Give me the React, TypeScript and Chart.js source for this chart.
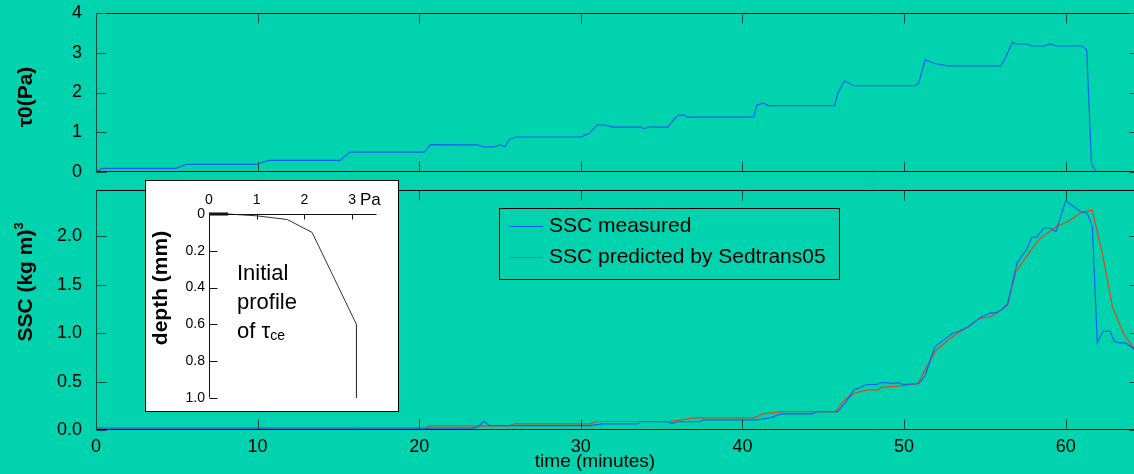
import React, { useEffect, useRef } from 'react';
import { Chart, registerables } from 'chart.js';

Chart.register(...registerables);

const BG = '#00D3AD';
const BLUE = '#1560F0';
const RED = '#E0461E';
const FONT = '"Liberation Sans", Arial, sans-serif';

// ---------- data ----------
const X_MAX = 64.6;
const timeTicks = [0, 10, 20, 30, 40, 50, 60];
const timeTickLabels = ['0', '10', '20', '30', '40', '50', '60'];

const tauTicks = [0, 1, 2, 3, 4];
const tauTickLabels = ['0', '1', '2', '3', '4'];

const sscTicks = [0, 0.5, 1, 1.5, 2];
const sscTickLabels = ['0.0', '0.5', '1.0', '1.5', '2.0'];

const tauTime = [0, 0.37, 4.95, 5.57, 9.9, 10.67, 15.1, 15.7, 20.3, 20.7, 23.6, 24.0, 24.6, 25.0, 25.3, 25.6, 26.0, 30.0, 30.5, 31.0, 31.5, 32.0, 33.7, 33.9, 34.2, 35.4, 35.6, 36.0, 36.4, 36.6, 40.7, 40.9, 41.3, 41.6, 45.7, 45.9, 46.3, 46.9, 50.7, 50.9, 51.3, 51.9, 52.7, 56.0, 56.3, 56.7, 56.9, 57.6, 57.9, 58.7, 59.0, 59.4, 61.0, 61.3, 61.6, 61.9, 64.6];
const tauValue = [0, 0.09, 0.09, 0.19, 0.19, 0.29, 0.29, 0.5, 0.5, 0.69, 0.68, 0.63, 0.63, 0.68, 0.64, 0.83, 0.88, 0.88, 0.97, 1.18, 1.18, 1.13, 1.13, 1.09, 1.13, 1.13, 1.24, 1.43, 1.43, 1.38, 1.38, 1.69, 1.73, 1.67, 1.67, 1.98, 2.29, 2.17, 2.17, 2.23, 2.82, 2.73, 2.67, 2.67, 2.9, 3.26, 3.22, 3.22, 3.17, 3.17, 3.22, 3.17, 3.17, 3.07, 0.2, 0, 0];

const measTime = [0, 20, 23.3, 23.6, 24.0, 24.35, 30.6, 31.3, 33.5, 33.7, 35.4, 35.6, 36.0, 37.3, 37.6, 40.9, 41.7, 42.4, 44.3, 44.6, 45.9, 46.4, 46.9, 47.7, 48.3, 48.6, 49.0, 49.3, 49.6, 49.95, 50.9, 51.3, 51.9, 52.45, 53.0, 53.4, 54.0, 54.7, 55.35, 55.7, 56.0, 56.4, 57.0, 57.6, 57.9, 58.2, 58.65, 59.0, 59.4, 60.0, 60.4, 60.9, 61.35, 61.65, 61.96, 62.3, 62.75, 63.0, 63.3, 63.7, 64.3, 64.6];
const measSSC = [0.02, 0.02, 0.02, 0.03, 0.09, 0.045, 0.045, 0.064, 0.064, 0.085, 0.085, 0.067, 0.085, 0.085, 0.105, 0.105, 0.126, 0.167, 0.167, 0.19, 0.19, 0.29, 0.415, 0.47, 0.47, 0.49, 0.49, 0.48, 0.49, 0.47, 0.48, 0.56, 0.86, 0.93, 1.0, 1.02, 1.07, 1.16, 1.21, 1.21, 1.24, 1.3, 1.73, 1.87, 1.99, 1.99, 2.09, 2.09, 2.05, 2.37, 2.32, 2.26, 2.24, 2.1, 0.9, 1.02, 1.02, 0.92, 0.9, 0.9, 0.83, 0.79];

const predTime = [0, 20.3, 20.6, 25.6, 25.9, 30.6, 31.0, 35.5, 36.2, 37.0, 40.7, 41.3, 42.4, 45.75, 46.3, 46.9, 47.7, 48.4, 48.6, 49.4, 50.0, 50.85, 51.4, 51.95, 52.7, 53.2, 54.0, 54.6, 55.35, 56.0, 56.4, 56.9, 57.6, 58.35, 59.5, 60.1, 60.9, 61.5, 61.65, 62.3, 62.9, 63.6, 64.3, 64.6];
const predSSC = [0, 0, 0.043, 0.043, 0.064, 0.064, 0.088, 0.088, 0.105, 0.126, 0.126, 0.167, 0.19, 0.19, 0.305, 0.38, 0.415, 0.415, 0.44, 0.45, 0.46, 0.48, 0.65, 0.82, 0.925, 0.99, 1.07, 1.15, 1.17, 1.24, 1.29, 1.63, 1.8, 1.97, 2.11, 2.15, 2.24, 2.27, 2.27, 1.8, 1.27, 0.99, 0.82, 0.75];

// inset: initial profile of critical erosion stress
const insetStressTicks = [0, 1, 2, 3];
const insetStressLabels = ['0', '1', '2', '3'];
const insetDepthTicks = [0, 0.2, 0.4, 0.6, 0.8, 1.0];
const insetDepthLabels = ['0', '0.2', '0.4', '0.6', '0.8', '1.0'];
const profileStress = [0, 0.4, 1.0, 1.64, 2.16, 3.09, 3.09];
const profileDepth = [0, 0, 0.01, 0.03, 0.1, 0.6, 1.0];
const surfaceStress = [0, 0.4];
const surfaceDepth = [0, 0];

const pts = (xs: number[], ys: number[]) => xs.map((x, i) => ({ x, y: ys[i] }));

// ---------- plugins ----------
const framePlugin = {
  id: 'frame',
  afterDatasetsDraw(chart: any, _a: any, o: any) {
    if (!o || !o.enabled) return;
    const { ctx, chartArea: ca } = chart;
    const xs = chart.scales.x;
    const ys = chart.scales.y;
    const L = Math.round(ca.left) + 0.5;
    const T = Math.round(ca.top) + 0.5;
    const R = Math.round(ca.right) - 0.5;
    const B = Math.round(ca.bottom) - 0.5;
    ctx.save();
    ctx.lineWidth = 1;
    const line = (x1: number, y1: number, x2: number, y2: number, c: string) => {
      ctx.strokeStyle = c;
      ctx.beginPath();
      ctx.moveTo(x1, y1);
      ctx.lineTo(x2, y2);
      ctx.stroke();
    };
    const sides = o.sides || [];
    const bc = o.borderColor || '#000';
    const lc = o.leftColor || bc;
    if (sides.includes('top')) line(L, T, R, T, bc);
    if (sides.includes('bottom')) line(L, B, R, B, bc);
    if (sides.includes('right')) line(R, T, R, B, bc);
    if (sides.includes('left')) line(L, T, L, B, lc);
    const tc = o.tickColor || bc;
    (o.xTicks || []).forEach((v: number) => {
      const px = Math.round(xs.getPixelForValue(v)) + 0.5;
      (o.xTickSides || []).forEach((s: string) => {
        if (s === 'top') line(px, T, px, T + o.xTickLen, tc);
        if (s === 'bottom') line(px, B, px, B - o.xTickLen, tc);
      });
    });
    (o.yTicks || []).forEach((v: number) => {
      const py = Math.round(ys.getPixelForValue(v)) + 0.5;
      (o.yTickSides || []).forEach((s: string) => {
        if (s === 'left') line(L, py, L + o.yTickLen, py, tc);
        if (s === 'right') line(R, py, R - o.yTickLen, py, tc);
      });
    });
    ctx.restore();
  },
};

const textPlugin = {
  id: 'texts',
  afterDraw(chart: any, _a: any, o: any) {
    const items = (o && o.items) || [];
    const ctx = chart.ctx;
    for (const it of items) {
      ctx.save();
      ctx.translate(it.x, it.y);
      if (it.rotate) ctx.rotate(it.rotate);
      ctx.fillStyle = it.color || '#000';
      ctx.textBaseline = it.baseline || 'alphabetic';
      ctx.textAlign = 'left';
      const segs = it.segments;
      const widths: number[] = [];
      let total = 0;
      for (const s of segs) {
        ctx.font = s.font;
        const w = ctx.measureText(s.text).width;
        widths.push(w);
        total += w;
      }
      let x = it.align === 'center' ? -total / 2 : 0;
      segs.forEach((s: any, i: number) => {
        ctx.font = s.font;
        ctx.fillText(s.text, x, s.dy || 0);
        x += widths[i];
      });
      ctx.restore();
    }
  },
};

const boxLegendPlugin = {
  id: 'boxLegend',
  afterDraw(chart: any, _a: any, o: any) {
    if (!o || !o.box) return;
    const { ctx } = chart;
    const [x, y, w, h] = o.box;
    ctx.save();
    ctx.strokeStyle = '#000';
    ctx.lineWidth = 1;
    ctx.strokeRect(x + 0.5, y + 0.5, w, h);
    chart.data.datasets.forEach((ds: any, i: number) => {
      const ly = o.rows[i];
      ctx.strokeStyle = ds.borderColor;
      ctx.lineWidth = 1.2;
      ctx.beginPath();
      ctx.moveTo(o.lineX0, ly + 0.5);
      ctx.lineTo(o.lineX1, ly + 0.5);
      ctx.stroke();
      ctx.fillStyle = '#000';
      ctx.font = o.font;
      ctx.textBaseline = 'middle';
      ctx.fillText(ds.label, o.textX, ly);
    });
    ctx.restore();
  },
};

const setTicks = (arr: number[]) => (s: any) => {
  s.ticks = arr.map((v) => ({ value: v }));
};
const fixWidth = (w: number) => (s: any) => {
  s.width = w;
  s.paddingTop = 0;
  s.paddingBottom = 0;
  s.paddingLeft = 0;
  s.paddingRight = 0;
};
const fixHeight = (h: number) => (s: any) => {
  s.height = h;
  s.paddingTop = 0;
  s.paddingBottom = 0;
  s.paddingLeft = 0;
  s.paddingRight = 0;
};

function makeTop(): any {
  return {
    type: 'line',
    data: {
      datasets: [
        { label: 'τ0', data: pts(tauTime, tauValue), borderColor: BLUE, borderWidth: 1.2, pointRadius: 0, tension: 0 },
      ],
    },
    options: {
      responsive: false,
      animation: false,
      events: [],
      layout: { padding: { top: 13, right: 1, bottom: 28, left: 0 } },
      scales: {
        x: { type: 'linear', display: false, min: 0, max: X_MAX },
        y: {
          type: 'linear',
          min: 0,
          max: 4,
          afterBuildTicks: setTicks(tauTicks),
          afterFit: fixWidth(96),
          grid: { display: false, drawTicks: false },
          border: { display: false },
          ticks: { font: { size: 18, family: FONT }, color: '#000', padding: 14, callback: (_v: any, i: number) => tauTickLabels[i] },
        },
      },
      plugins: {
        legend: { display: false },
        tooltip: { enabled: false },
        frame: {
          enabled: true,
          sides: ['top', 'bottom', 'left', 'right'],
          borderColor: '#000',
          leftColor: '#0f4a3c',
          tickColor: '#0f4a3c',
          xTicks: timeTicks,
          xTickSides: ['top', 'bottom'],
          xTickLen: 10,
          yTicks: tauTicks,
          yTickSides: ['left', 'right'],
          yTickLen: 10,
        },
        texts: {
          items: [
            { x: 26, y: 97, rotate: -Math.PI / 2, align: 'center', baseline: 'middle', segments: [{ text: 'τ0(Pa)', font: `bold 21px ${FONT}` }] },
          ],
        },
      },
    },
    plugins: [framePlugin, textPlugin],
  };
}

function makeBottom(): any {
  return {
    type: 'line',
    data: {
      datasets: [
        { label: 'SSC measured', data: pts(measTime, measSSC), borderColor: BLUE, borderWidth: 1.2, pointRadius: 0, tension: 0 },
        { label: 'SSC predicted by Sedtrans05', data: pts(predTime, predSSC), borderColor: RED, borderWidth: 1.2, pointRadius: 0, tension: 0 },
      ],
    },
    options: {
      responsive: false,
      animation: false,
      events: [],
      layout: { padding: { top: 20, right: 1, bottom: 0, left: 0 } },
      scales: {
        x: {
          type: 'linear',
          min: 0,
          max: X_MAX,
          afterBuildTicks: setTicks(timeTicks),
          afterFit: fixHeight(44),
          grid: { display: false, drawTicks: false },
          border: { display: false },
          ticks: { font: { size: 18, family: FONT }, color: '#000', padding: 6, maxRotation: 0, autoSkip: false, callback: (_v: any, i: number) => timeTickLabels[i] },
        },
        y: {
          type: 'linear',
          min: 0,
          max: 2.48,
          afterBuildTicks: setTicks(sscTicks),
          afterFit: fixWidth(96),
          grid: { display: false, drawTicks: false },
          border: { display: false },
          ticks: { font: { size: 18, family: FONT }, color: '#000', padding: 14, callback: (_v: any, i: number) => sscTickLabels[i] },
        },
      },
      plugins: {
        legend: { display: false },
        tooltip: { enabled: false },
        frame: {
          enabled: true,
          sides: ['top', 'bottom', 'left', 'right'],
          borderColor: '#000',
          leftColor: '#0f4a3c',
          tickColor: '#0f4a3c',
          xTicks: timeTicks,
          xTickSides: ['top', 'bottom'],
          xTickLen: 10,
          yTicks: sscTicks,
          yTickSides: ['left', 'right'],
          yTickLen: 10,
        },
        boxLegend: {
          box: [499, 38, 340, 71],
          rows: [56, 87],
          lineX0: 509,
          lineX1: 543,
          textX: 549,
          font: `21px ${FONT}`,
        },
        texts: {
          items: [
            {
              x: 26, y: 112, rotate: -Math.PI / 2, align: 'center', baseline: 'middle',
              segments: [
                { text: 'SSC (kg m)', font: `bold 21px ${FONT}` },
                { text: '3', font: `bold 13px ${FONT}`, dy: -7 },
              ],
            },
            { x: 595, y: 292, align: 'center', baseline: 'middle', segments: [{ text: 'time (minutes)', font: `19px ${FONT}` }] },
          ],
        },
      },
    },
    plugins: [framePlugin, textPlugin, boxLegendPlugin],
  };
}

function makeInset(): any {
  return {
    type: 'line',
    data: {
      datasets: [
        { label: 'profile', data: pts(profileStress, profileDepth), borderColor: '#333', borderWidth: 1, pointRadius: 0, tension: 0, clip: false },
        { label: 'surface', data: pts(surfaceStress, surfaceDepth), borderColor: '#000', borderWidth: 3, pointRadius: 0, tension: 0, clip: false },
      ],
    },
    options: {
      responsive: false,
      animation: false,
      events: [],
      layout: { padding: { top: 0, right: 21, bottom: 13, left: 0 } },
      scales: {
        x: {
          type: 'linear',
          position: 'top',
          min: 0,
          max: 3.52,
          afterBuildTicks: setTicks(insetStressTicks),
          afterFit: fixHeight(33),
          grid: { display: false, drawTicks: false },
          border: { display: false },
          ticks: { font: { size: 14, family: FONT }, color: '#000', padding: 5, maxRotation: 0, autoSkip: false, callback: (_v: any, i: number) => insetStressLabels[i] },
        },
        y: {
          type: 'linear',
          reverse: true,
          min: 0,
          max: 1,
          afterBuildTicks: setTicks(insetDepthTicks),
          afterFit: fixWidth(63),
          grid: { display: false, drawTicks: false },
          border: { display: false },
          ticks: { font: { size: 14, family: FONT }, color: '#000', padding: 4, autoSkip: false, callback: (_v: any, i: number) => insetDepthLabels[i] },
        },
      },
      plugins: {
        legend: { display: false },
        tooltip: { enabled: false },
        frame: {
          enabled: true,
          sides: ['top', 'left'],
          borderColor: '#111',
          tickColor: '#111',
          xTicks: insetStressTicks,
          xTickSides: ['top'],
          xTickLen: 5,
          yTicks: insetDepthTicks,
          yTickSides: ['left'],
          yTickLen: 8,
        },
        texts: {
          items: [
            { x: 15, y: 107, rotate: -Math.PI / 2, align: 'center', baseline: 'middle', segments: [{ text: 'depth (mm)', font: `bold 21px ${FONT}` }] },
            { x: 214, y: 19, baseline: 'middle', segments: [{ text: 'Pa', font: `17px ${FONT}` }] },
            { x: 91, y: 99, segments: [{ text: 'Initial', font: `22px ${FONT}` }] },
            { x: 91, y: 128, segments: [{ text: 'profile', font: `22px ${FONT}` }] },
            {
              x: 91, y: 157,
              segments: [
                { text: 'of τ', font: `22px ${FONT}` },
                { text: 'ce', font: `14px ${FONT}`, dy: 2 },
              ],
            },
          ],
        },
      },
    },
    plugins: [framePlugin, textPlugin],
  };
}

export default function App() {
  const topRef = useRef<HTMLCanvasElement>(null);
  const botRef = useRef<HTMLCanvasElement>(null);
  const insetRef = useRef<HTMLCanvasElement>(null);

  useEffect(() => {
    Chart.defaults.font.family = FONT;
    Chart.defaults.color = '#000';
    const charts = [
      new Chart(topRef.current as HTMLCanvasElement, makeTop()),
      new Chart(botRef.current as HTMLCanvasElement, makeBottom()),
      new Chart(insetRef.current as HTMLCanvasElement, makeInset()),
    ];
    return () => charts.forEach((c) => c.destroy());
  }, []);

  return (
    <div style={{ position: 'relative', width: 1134, height: 474, overflow: 'hidden', background: BG }}>
      <style>{'html,body{margin:0;padding:0;overflow:hidden;}'}</style>
      <canvas ref={topRef} width={1141} height={200} style={{ position: 'absolute', left: 0, top: 0, width: 1141, height: 200 }} />
      <canvas ref={botRef} width={1141} height={304} style={{ position: 'absolute', left: 0, top: 170, width: 1141, height: 304 }} />
      <div
        style={{
          position: 'absolute',
          left: 145,
          top: 180,
          width: 254,
          height: 232,
          boxSizing: 'border-box',
          border: '1px solid #000',
          background: '#fff',
        }}
      >
        <canvas ref={insetRef} width={252} height={230} style={{ display: 'block', width: 252, height: 230 }} />
      </div>
    </div>
  );
}
